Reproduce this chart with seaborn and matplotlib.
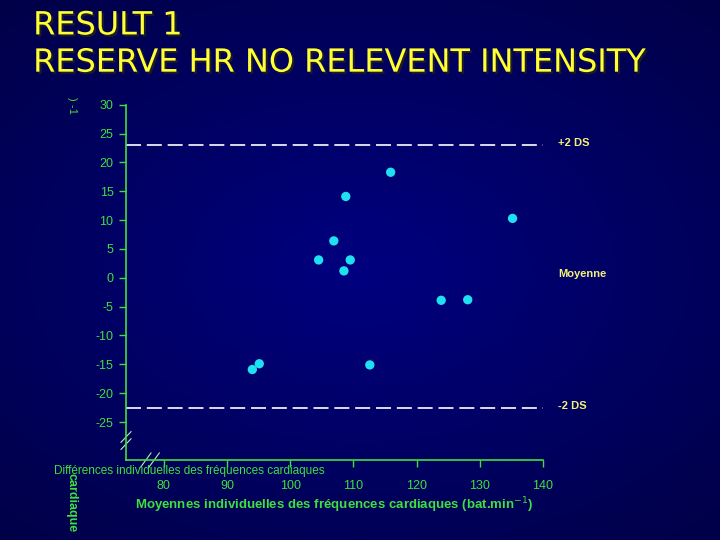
import numpy as np
import matplotlib
matplotlib.use("Agg")
import matplotlib.pyplot as plt
import matplotlib.patheffects as pe
import seaborn as sns
import pandas as pd

# Data
moyenne = [115.9, 108.8, 135.2, 106.9, 104.5, 109.5, 108.5, 123.9, 128.1, 95.1, 94.0, 112.6]
difference = [18.3, 14.1, 10.3, 6.4, 3.1, 3.1, 1.2, -3.9, -3.8, -14.9, -15.9, -15.1]
plus_2ds = 23.1
minus_2ds = -22.6
xticks = [80, 90, 100, 110, 120, 130, 140]
yticks = [30, 25, 20, 15, 10, 5, 0, -5, -10, -15, -20, -25]

df = pd.DataFrame({"moyenne": moyenne, "difference": difference})

green = "#3ee03e"
yellow = "#f2f27a"
plt.rcParams['font.family'] = ['Liberation Sans', 'DejaVu Sans']

fig = plt.figure(figsize=(7.2, 5.4), dpi=100)

# background gradient
bg = fig.add_axes([0, 0, 1, 1])
yy, xx = np.mgrid[-1:1:200j, -1:1:200j]
r = np.sqrt((xx * 0.9) ** 2 + (yy * 1.0) ** 2)
grad = np.clip(1 - r / 1.4, 0, 1)
c0 = np.array([0x00, 0x00, 0x45]) / 255
c1 = np.array([0x00, 0x00, 0x80]) / 255
img = c0 + (c1 - c0) * grad[..., None]
bg.imshow(img, aspect="auto", extent=[0, 1, 0, 1])
bg.set_axis_off()

ax = fig.add_axes([0.175, 0.148, 0.579, 0.658])
ax.set_facecolor("none")
sns.scatterplot(data=df, x="moyenne", y="difference", ax=ax, color="#1ee0f0",
                s=45, edgecolor="none", zorder=3)

ax.axhline(plus_2ds, color="white", lw=1.2, dashes=(9, 3.5))
ax.axhline(minus_2ds, color="white", lw=1.2, dashes=(9, 3.5))

ax.set_xlim(74, 140)
ax.set_ylim(-31.6, 30)
ax.set_xticks(xticks)
ax.set_yticks(yticks)
ax.set_xticklabels([str(t) for t in xticks], color=green, fontsize=9)
ax.set_yticklabels([str(t) for t in yticks], color=green, fontsize=9)
ax.tick_params(axis="both", colors=green, length=5, width=1, pad=4)
ax.tick_params(axis="x", pad=9)
for s in ["top", "right"]:
    ax.spines[s].set_visible(False)
for s in ["left", "bottom"]:
    ax.spines[s].set_color(green)
    ax.spines[s].set_linewidth(1.2)

ax.set_xlabel("Moyennes individuelles des fréquences cardiaques (bat.min$^{-1}$)",
              color=green, fontsize=9.5, fontweight="bold", labelpad=3)
ax.set_ylabel("")

# axis break marks
for d in (0.0, 0.02):
    ax.plot([-0.012, 0.012], [0.03 + d, 0.06 + d], transform=ax.transAxes,
            color="#b0f0b0", lw=0.8, clip_on=False)
    ax.plot([0.035 + d, 0.06 + d], [-0.02, 0.02], transform=ax.transAxes,
            color="#b0f0b0", lw=0.8, clip_on=False)

# line labels
fig.text(0.775, 0.735, "+2 DS", color=yellow, fontsize=8, fontweight="bold", va="center")
fig.text(0.775, 0.492, "Moyenne", color=yellow, fontsize=8, fontweight="bold", va="center")
fig.text(0.775, 0.248, "-2 DS", color=yellow, fontsize=8, fontweight="bold", va="center")

# remnants of the y label
fig.text(0.1, 0.805, ") -1", color=green, fontsize=8, rotation=270, ha="center", va="center")
fig.text(0.1, 0.07, "cardiaque", color=green, fontsize=9, fontweight="bold",
         rotation=270, ha="center", va="center")
fig.text(0.075, 0.128, "Différences individuelles des fréquences cardiaques",
         color=green, fontsize=8.5, va="center")

# title
shadow = [pe.withSimplePatchShadow(offset=(1.5, -1.5), shadow_rgbFace="#202020", alpha=0.9)]
fig.text(0.046, 0.952, "RESULT 1", color="#ffff33", fontsize=23, va="center",
         family=["DejaVu Sans"], path_effects=shadow)
fig.text(0.046, 0.883, "RESERVE HR NO RELEVENT INTENSITY", color="#ffff33", fontsize=23,
         va="center", family=["DejaVu Sans"], path_effects=shadow)

fig.savefig("out.png", dpi=100)
